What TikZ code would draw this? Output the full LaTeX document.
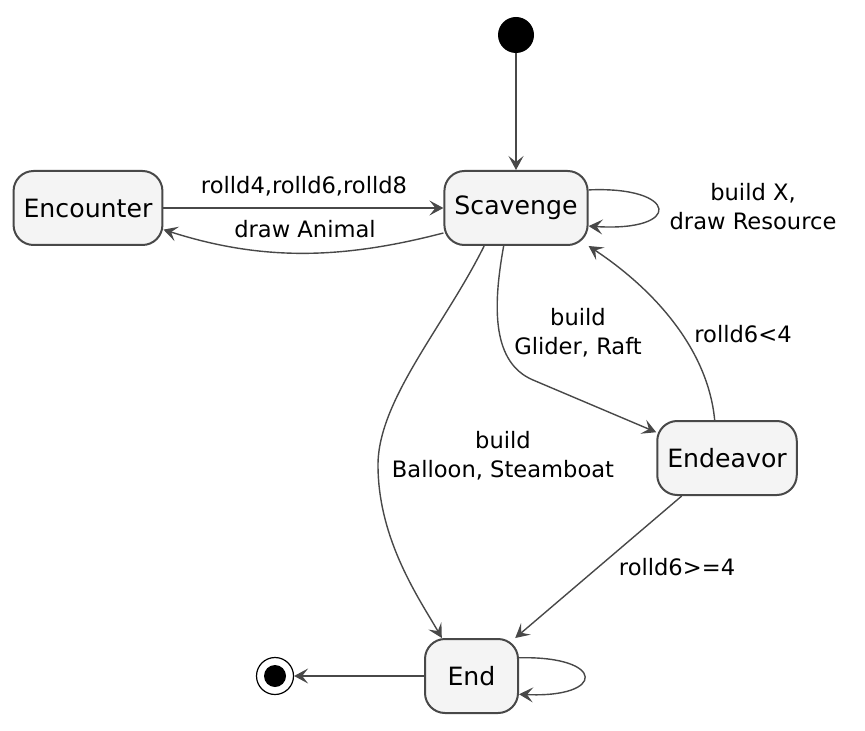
\documentclass[tikz,border=0pt]{standalone}
\usepackage{fontspec}
\setmainfont{DejaVu Sans}
\usetikzlibrary{arrows.meta}
\definecolor{stateline}{RGB}{72,72,72}
\definecolor{statefill}{RGB}{244,244,244}
\definecolor{edgeline}{RGB}{72,72,72}

\begin{document}
\begin{tikzpicture}[x=0.5pt,y=-0.5pt,
  state/.style={draw=stateline,line width=1pt,rounded corners=10pt,fill=statefill,
    minimum height=37pt,minimum width=46.5pt,inner xsep=5pt,
    font=\fontsize{12.6}{15}\selectfont},
  trans/.style={draw=edgeline,line width=0.7pt,
    -{Stealth[length=7pt,width=7.5pt,inset=3pt]}},
  tlabel/.style={align=center,font=\fontsize{11.3}{14.5}\selectfont,inner sep=0pt}]
\useasboundingbox (0,0) rectangle (865,731);

% states
\node[circle,fill=black,minimum size=18pt,inner sep=0pt] (start) at (516,35) {};
\node[state] (scav) at (516,208) {Scavenge};
\node[state] (enc) at (88,208) {Encounter};
\node[state] (endv) at (727,458) {Endeavor};
\node[state] (fin) at (471.5,676) {End};
\node[circle,draw=black,line width=0.6pt,minimum size=18.5pt,inner sep=0pt] (stop) at (275,676) {};
\node[circle,fill=black,minimum size=11pt,inner sep=0pt] (stopdot) at (stop) {};

% transitions
\draw[trans] (start) -- (scav);
\draw[trans] (enc) -- (scav);
\draw[trans] (scav.-161) .. controls +(-100,26) and +(100,32) .. (enc.-16);
\draw[trans] (scav.14) .. controls +(90,-4) and +(95,6) .. (scav.-14);
\draw[trans] (scav.-108) .. controls (492,310) and (493,363) .. (533,380) -- (endv.160);
\draw[trans] (endv.108) .. controls (708,350) and (655,290) .. (scav.south east);
\draw[trans] (scav.-130) .. controls (445,325) and (378,400) .. (378,465)
  .. controls (378,540) and (420,600) .. (fin.128);
\draw[trans] (endv.-140) -- (fin.41);
\draw[trans] (fin) -- (stop);
\draw[trans] (fin.21) .. controls +(87,-2) and +(87,4) .. (fin.-21);

% labels
\node[tlabel] (lroll) at (304,186) {rolld4,rolld6,rolld8};
\node[tlabel] (lanimal) at (305,229) {draw Animal};
\node[tlabel] (lres) at (753,207) {build X,\\draw Resource};
\node[tlabel] (lglider) at (578,333) {build\\Glider, Raft};
\node[tlabel] (llow) at (743,334) {rolld6<4};
\node[tlabel] (lballoon) at (503,456) {build\\Balloon, Steamboat};
\node[tlabel] (lhigh) at (677,567) {rolld6>=4};
\end{tikzpicture}
\end{document}
